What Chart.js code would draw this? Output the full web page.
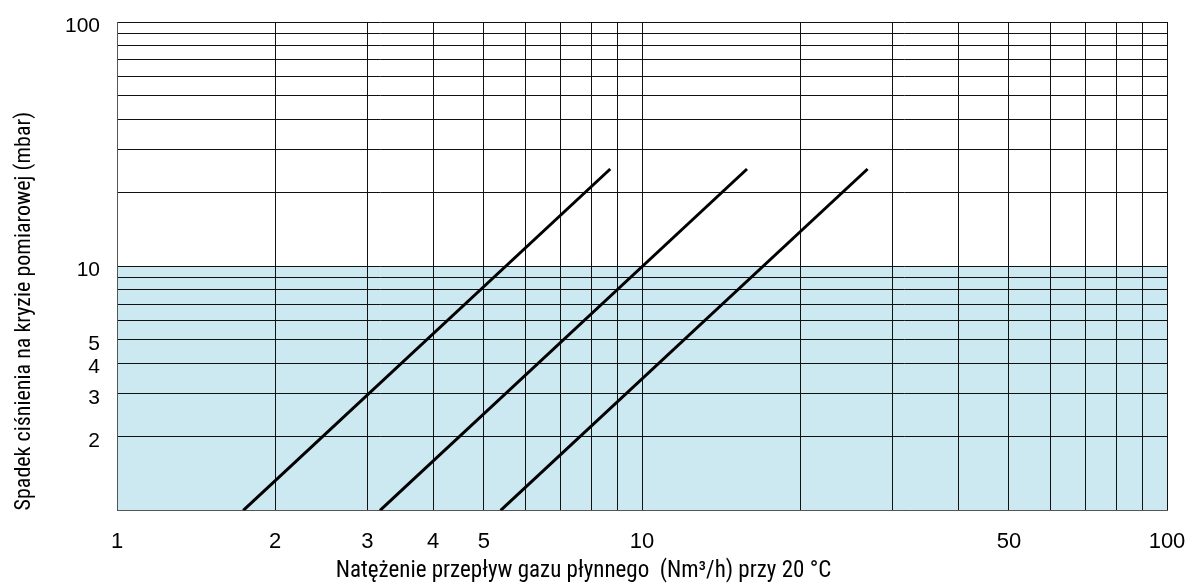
<!DOCTYPE html>
<html>
<head>
<meta charset="utf-8">
<script src="https://cdn.jsdelivr.net/npm/chart.js@4"></script>
<style>
html,body{margin:0;padding:0;background:#fff;}
#wrap{width:1186px;height:588px;position:relative;}
</style>
</head>
<body>
<div id="wrap"><canvas id="c" width="1186" height="588"></canvas></div>
<script>
// Flow (Nm3/h) at line ends, pressure drop (mbar) at line ends
const pressureEnds = [1, 25];
const flowLine1 = [1.74, 8.7];
const flowLine2 = [3.17, 15.85];
const flowLine3 = [5.38, 26.9];
// Shaded band (mbar) upper limit, over the whole flow range
const bandFlow = [1, 100];
const bandPressure = [10, 10];
// Grid / tick values and labels
const xTickValues = [1,2,3,4,5,6,7,8,9,10,20,30,40,50,60,70,80,90,100];
const xTickLabels = [1,2,3,4,5,10,50,100];
const yTickValues = [1,2,3,4,5,6,7,8,9,10,20,30,40,50,60,70,80,90,100];
const yTickLabels = [2,3,4,5,10,100];

const xTitle = 'Natężenie przepływ gazu płynnego  (Nm³/h) przy 20 °C';
const yTitle = 'Spadek ciśnienia na kryzie pomiarowej (mbar)';

const NARROW = "'Roboto Condensed', 'DejaVu Sans Condensed', sans-serif";
const REG = "'Liberation Sans', Arial, sans-serif";

function pts(xs, ys){ return xs.map((x,i)=>({x:x, y:ys[i]})); }
const lineStyle = {borderColor:'#000', borderWidth:3, pointRadius:0, fill:false, showLine:true, tension:0};

function draw(){
new Chart(document.getElementById('c'), {
  type: 'scatter',
  data: {
    datasets: [
      {label:'band', data: pts(bandFlow, bandPressure), showLine:true, borderWidth:0, borderColor:'rgba(0,0,0,0)', pointRadius:0, backgroundColor:'#cce9f1', fill:'start'},
      Object.assign({label:'1', data: pts(flowLine1, pressureEnds)}, lineStyle),
      Object.assign({label:'2', data: pts(flowLine2, pressureEnds)}, lineStyle),
      Object.assign({label:'3', data: pts(flowLine3, pressureEnds)}, lineStyle)
    ]
  },
  options: {
    responsive: false,
    animation: false,
    devicePixelRatio: 1,
    layout: {padding: {left: 0, right: 19, top: 22, bottom: 0}},
    plugins: {
      legend: {display: false},
      tooltip: {enabled: false},
      filler: {drawTime: 'beforeDraw'},
      title: {
        display: true, position: 'bottom', text: xTitle, color: '#000',
        font: {family: NARROW, size: 23, weight: 'normal'},
        padding: {top: 0, bottom: 3}
      }
    },
    scales: {
      x: {
        type: 'logarithmic', min: 1, max: 100,
        afterBuildTicks: s => { s.ticks = xTickValues.map(v => ({value: v})); },
        afterFit: s => { s.height = 47; s.paddingLeft = 0; s.paddingRight = 0; },
        ticks: {
          autoSkip: false, maxRotation: 0, minRotation: 0, padding: 18, color: '#000',
          font: {family: REG, size: 22},
          callback: v => xTickLabels.includes(v) ? String(v) : ''
        },
        grid: {color: '#111', lineWidth: 1, drawTicks: false},
        border: {color: '#555', width: 1}
      },
      y: {
        type: 'logarithmic', min: 1, max: 100,
        afterBuildTicks: s => { s.ticks = yTickValues.map(v => ({value: v})); },
        afterFit: s => { s.width = 117; s.paddingTop = 0; s.paddingBottom = 0; },
        ticks: {
          autoSkip: false, padding: 17, color: '#000', labelOffset: 4,
          font: {family: REG, size: 21},
          callback: v => yTickLabels.includes(v) ? String(v) : ''
        },
        grid: {color: '#111', lineWidth: 1, drawTicks: false},
        border: {color: '#555', width: 1},
        title: {
          display: true, text: yTitle, align: 'start', color: '#000',
          font: {family: NARROW, size: 22, weight: 'normal'},
          padding: {top: 11, bottom: 0}
        }
      }
    }
  }
});
}
Promise.all([
  document.fonts.load("21px 'Liberation Sans'"),
  document.fonts.load("22px 'Roboto Condensed'")
]).then(draw, draw);
</script>
</body>
</html>
